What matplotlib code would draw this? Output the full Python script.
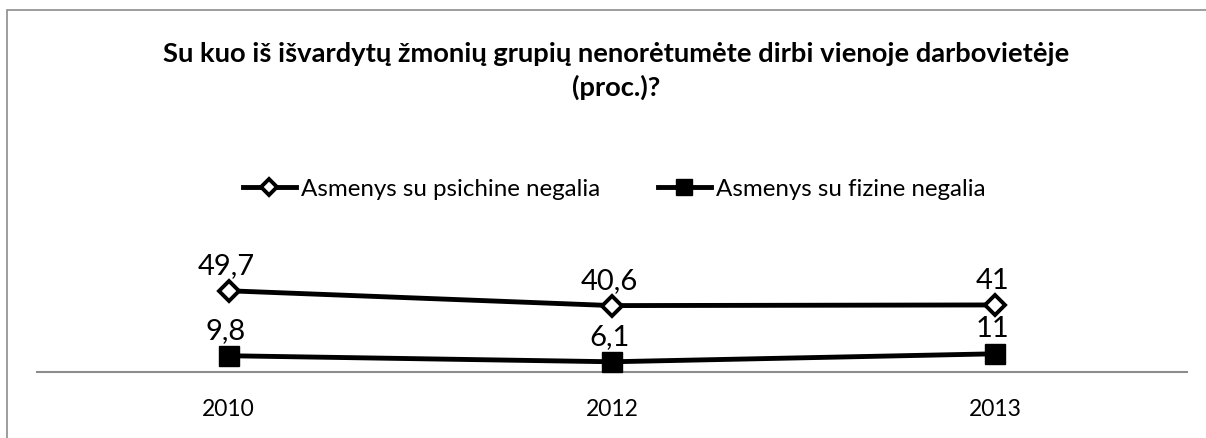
import matplotlib.pyplot as plt
from matplotlib.patches import Rectangle

# Data
years = ["2010", "2012", "2013"]
psichine = [49.7, 40.6, 41]
fizine = [9.8, 6.1, 11]
series_names = ["Asmenys su psichine negalia", "Asmenys su fizine negalia"]
title = "Su kuo iš išvardytų žmonių grupių nenorėtumėte dirbi vienoje darbovietėje\n(proc.)?"

plt.rcParams['font.family'] = ['Lato', 'DejaVu Sans']

W, H = 1206, 439
fig = plt.figure(figsize=(W / 100, H / 100), dpi=100)

# outer chart frame (cut off at right/bottom like the reference)
fig.patches.append(Rectangle((7 / W, -0.1), 1.2, 1.1 - 11 / H, transform=fig.transFigure,
                             fill=False, edgecolor='#8c8c8c', linewidth=1.2))

# plot area in pixel terms
ax = fig.add_axes([37 / W, (H - 372.7) / H, 1150 / W, 97.7 / H])
ax.set_xlim(-0.5, len(years) - 0.5)
ax.set_ylim(0, 60)

x = list(range(len(years)))
ax.plot(x, psichine, color='black', lw=3.5, marker='D', ms=10, mfc='white', mec='black', mew=2.8,
        label=series_names[0], clip_on=False, zorder=3)
ax.plot(x, fizine, color='black', lw=3.5, marker='s', ms=14, mfc='black', mec='black',
        label=series_names[1], clip_on=False, zorder=3)

for xi, v in zip(x, psichine):
    ax.annotate(f"{v:g}".replace('.', ','), (xi, v), xytext=(-2, 12.5), textcoords='offset points',
                ha='center', va='baseline', fontsize=21)
for xi, v in zip(x, fizine):
    ax.annotate(f"{v:g}".replace('.', ','), (xi, v), xytext=(-2, 12.5), textcoords='offset points',
                ha='center', va='baseline', fontsize=21)

for s in ['top', 'right', 'left']:
    ax.spines[s].set_visible(False)
ax.spines['bottom'].set_color('#8c8c8c')
ax.spines['bottom'].set_linewidth(1.5)
ax.set_yticks([])
ax.set_xticks(x)
ax.set_xticklabels(years, fontsize=16.5)
ax.tick_params(axis='x', length=0, pad=19)

fig.text(616 / W, 1 - 71 / H, title, ha='center', va='center', fontsize=19.7, fontweight='bold',
         linespacing=1.4)

leg = fig.legend(loc='center', bbox_to_anchor=(614 / W, 1 - 190 / H), ncol=2, frameon=False,
                 fontsize=17.4, handlelength=2.2, handletextpad=0.2, columnspacing=2.4,
                 markerscale=0.8)

fig.savefig('out.png', dpi=100)
